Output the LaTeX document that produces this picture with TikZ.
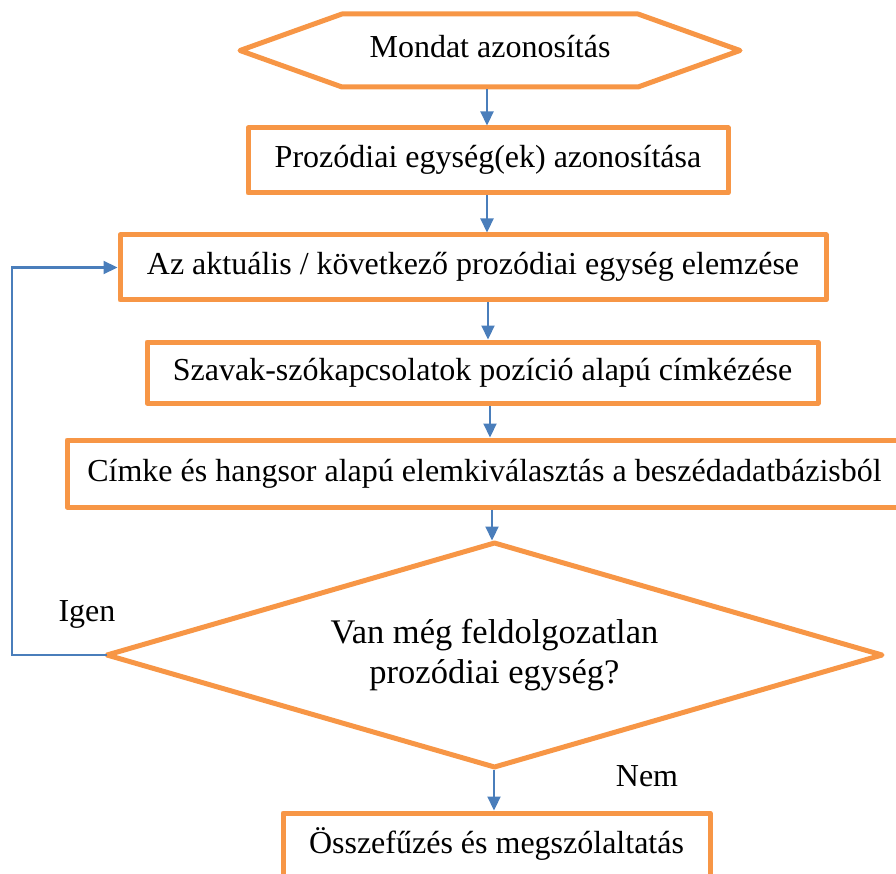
\documentclass[tikz,border=0pt]{standalone}
\usepackage{fontspec}
\setmainfont{Liberation Serif}
\usetikzlibrary{arrows.meta,shapes.geometric}
\definecolor{flowOrange}{HTML}{F79646}
\definecolor{flowBlue}{HTML}{4A7EBB}
\begin{document}
\begin{tikzpicture}[x=1pt,y=-1pt,
  outline/.style={draw=flowOrange, line width=5pt, line join=round},
  stepbox/.style={outline, rectangle, inner sep=0pt, outer sep=0pt,
    font=\fontsize{32}{38}\selectfont, text height=22pt, text depth=7pt},
  decision/.style={outline, diamond, aspect=3.46, inner sep=0pt, outer sep=0pt,
    align=center, font=\fontsize{34.5}{40}\selectfont},
  flow/.style={draw=flowBlue, line width=2.2pt, shorten <=2.5pt, shorten >=2.5pt,
    -{Triangle[width=13pt,length=14pt]}},
  lbl/.style={inner sep=0pt, font=\fontsize{32}{38}\selectfont}]

\useasboundingbox (0,0) rectangle (896,874);
\clip (0,0) rectangle (896,874);

% start: hexagonal terminator
\node (hex) [inner sep=0pt, outer sep=0pt, minimum width=500pt, minimum height=73pt,
  font=\fontsize{32}{38}\selectfont, text height=22pt, text depth=7pt]
  at (490,50.5) {Mondat azonosítás};
\draw[outline] (hex.west) -- ([xshift=102pt]hex.north west) -- ([xshift=-102pt]hex.north east)
  -- (hex.east) -- ([xshift=-102pt]hex.south east) -- ([xshift=102pt]hex.south west) -- cycle;

% processing steps
\node (units)  [stepbox, minimum width=480pt, minimum height=65pt] at (488,160.5)
  {Prozódiai egység(ek) azonosítása};
\node (current)[stepbox, minimum width=706pt, minimum height=65pt] at (473,267.5)
  {Az aktuális / következő prozódiai egység elemzése};
\node (tagging)[stepbox, minimum width=671pt, minimum height=61pt] at (482.5,372.5)
  {Szavak-szókapcsolatok pozíció alapú címkézése};
\node (select) [stepbox, minimum width=835pt, minimum height=67pt] at (484.5,473.5)
  {Címke és hangsor alapú elemkiválasztás a beszédadatbázisból};
\node (check)  [decision, minimum width=775pt, minimum height=224pt] at (494.5,655)
  {Van még feldolgozatlan\\prozódiai egység?};
\node (output) [stepbox, minimum width=427pt, minimum height=65pt] at (496.5,845.5)
  {Összefűzés és megszólaltatás};

% branch labels
\node (yes) [lbl] at (87,614) {Igen};
\node (no)  [lbl] at (647,776) {Nem};

% vertical guides for the connectors
\coordinate (c1) at (487,0);
\coordinate (c2) at (487,0);
\coordinate (c3) at (488,0);
\coordinate (c4) at (490,0);
\coordinate (c5) at (492,0);
\coordinate (c6) at (494,0);
\coordinate (loopcorner) at (12,655);

% connectors
\draw[flow] (hex.south -| c1) -- (units.north -| c1);
\draw[flow] (units.south -| c2) -- (current.north -| c2);
\draw[flow] (current.south -| c3) -- (tagging.north -| c3);
\draw[flow] (tagging.south -| c4) -- (select.north -| c4);
\draw[flow] (select.south -| c5) -- (check.north -| c5);
\draw[flow] (check.south -| c6) -- (output.north -| c6);
\draw[flow, shorten <=0pt] (check.west) -- (loopcorner) |- (current.west);
\end{tikzpicture}
\end{document}
